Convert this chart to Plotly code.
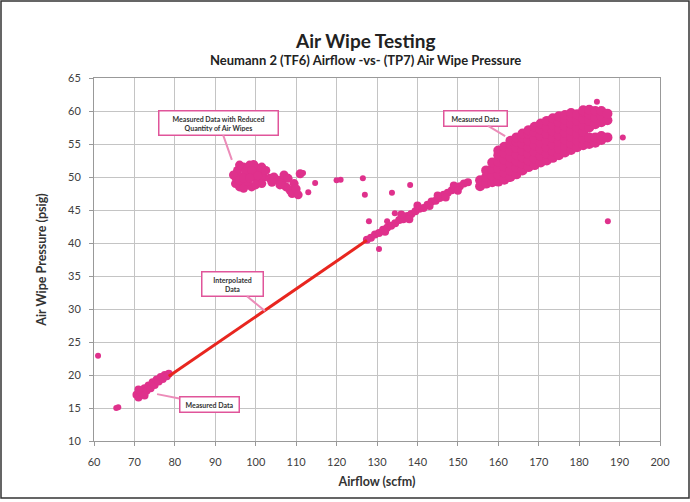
import plotly.graph_objects as go

# ---------------- data ----------------
reduced_x = [95, 95, 95.5, 96, 96.5, 97, 97.5, 98, 98.5, 99, 99.5, 100, 100.5, 101, 101.5, 102, 96, 94.5, 97, 99.5, 102.5, 98, 100,
             96, 97.5, 99, 100.5, 101.5, 97, 98.5, 100,
             103.5, 104.5, 105.5, 106.5, 107, 107.5, 108, 108.5, 109, 109.5, 110, 110.5, 111, 106, 104]
reduced_y = [49, 50, 51, 48.5, 50, 51.5, 49, 50.5, 51.8, 48.5, 50, 51.5, 49.3, 50.8, 51.5, 50, 51.8, 50.3, 48.3, 51.9, 51, 49.3, 50.3,
             49.5, 50.8, 51, 50.2, 49, 49.8, 49.8, 48.8,
             49.8, 50, 49.5, 49.2, 50.3, 48.5, 49.8, 48, 47.5, 49, 48.2, 47.3, 50.5, 48.8, 49.2]

scatter_x = [114.7, 113, 111.7, 120, 121, 126.5, 127, 133.7, 138.2, 128, 132.5, 134.4, 130.5,
             61, 65.5, 66, 184.4, 190.8, 187.1]
scatter_y = [49.1, 47.7, 50.6, 49.5, 49.6, 49.8, 47.3, 47.6, 48.8, 43.3, 43.3, 44.5, 39.1,
             22.9, 15, 15.1, 61.4, 56, 43.3]

band_x = [127.5, 128.5, 129.5, 130.5, 131.5, 132.5, 133.5, 134.5, 135.5, 136.5, 137.5, 138.5, 139.5,
          140.5, 141.5, 142.5, 143.5, 144.5, 145.5, 146.5, 147.5, 148.5, 149.5, 150.5, 151.5, 152.5,
          136, 138, 143, 145, 147, 149, 150, 132, 140]
band_y = [40.5, 40.8, 41.3, 41.5, 42, 42.3, 42.6, 43, 43.5, 43.6, 44.1, 44.4, 44.8,
          45.2, 45.3, 45.8, 46.3, 46.4, 46.8, 47.3, 47.6, 48, 48.2, 48.6, 49, 49.2,
          44.3, 43.6, 45.6, 47.2, 46.9, 48.7, 47.9, 41.7, 45.7]

upper_cols = {
    155.5: [48.6, 49.5],
    157.0: [49, 50, 51],
    158.5: [49.2, 50.2, 51.2, 52.2],
    160.0: [49.3, 50.3, 51.3, 52.3, 53.3, 54],
    161.5: [49.6, 50.6, 51.6, 52.6, 53.6, 54.6],
    163.0: [50, 51, 52, 53, 54, 55, 55.5],
    164.5: [50.4, 51.4, 52.4, 53.4, 54.4, 55.4, 56],
    166.0: [51, 52, 53, 54, 55, 56, 56.6],
    167.5: [51.5, 52.5, 53.5, 54.5, 55.5, 56.5, 57.1],
    169.0: [51.8, 52.8, 53.8, 54.8, 55.8, 56.8, 57.6],
    170.5: [52.2, 53.2, 54.2, 55.2, 56.2, 57.2, 58.1],
    172.0: [52.5, 53.5, 54.5, 55.5, 56.5, 57.5, 58.5],
    173.5: [52.9, 53.9, 54.9, 55.9, 56.9, 57.9, 58.9],
    175.0: [53.3, 54.3, 55.3, 56.3, 57.3, 58.3, 59.2],
    176.5: [53.7, 54.7, 55.7, 56.7, 57.7, 58.7, 59.4],
    178.0: [54.1, 55.1, 56.1, 57.1, 58.1, 59.1, 59.7],
    179.5: [54.5, 55.5, 56.5, 57.5, 58.5, 59.5],
    181.0: [54.8, 55.8, 56.8, 57.8, 58.8, 59.8, 60.1],
    182.5: [55, 56, 57.5, 58.5, 59.5, 60.2],
    184.0: [55.2, 56, 58, 59, 60],
    185.5: [55.6, 56.2, 58.3, 59.3, 60],
    187.0: [56, 58.6, 59.6],
}
upper_x = [x for x, ys in upper_cols.items() for _ in ys]
upper_y = [y for ys in upper_cols.values() for y in ys]

lower_x = [70.5, 71, 71.5, 72, 72.5, 73, 73.5, 74, 74.5, 75, 75.5, 76, 76.5, 77, 77.5, 78, 78.5, 71, 72.5]
lower_y = [17, 16.6, 17.5, 17.2, 18, 17.6, 18.4, 18, 18.9, 18.5, 19.3, 19, 19.7, 19.4, 20, 19.8, 20.2, 17.8, 16.9]

interp_x = [78.5, 127.5]
interp_y = [19.8, 40.4]

x_ticks = list(range(60, 201, 10))
y_ticks = list(range(10, 66, 5))

# ---------------- figure ----------------
PINK = "#df318c"
fig = go.Figure()
for xs, ys, sz in [(reduced_x, reduced_y, 9), (band_x, band_y, 8), (upper_x, upper_y, 10),
                   (lower_x, lower_y, 8), (scatter_x, scatter_y, 6)]:
    fig.add_trace(go.Scatter(x=xs, y=ys, mode="markers",
                             marker=dict(color=PINK, size=sz, line=dict(width=0)),
                             showlegend=False, hoverinfo="x+y"))
fig.add_trace(go.Scatter(x=interp_x, y=interp_y, mode="lines",
                         line=dict(color="#e8261f", width=3), showlegend=False))

FONT = "Lato, 'Open Sans', sans-serif"
callouts = [
    (94.1, 52.6, -13, -37, "Measured Data with Reduced<br>Quantity of Air Wipes", 112),
    (161.7, 56.2, -30, -18, "Measured Data", 56),
    (102.3, 29.7, -33, -27, "Interpolated<br>Data", 54),
    (75.6, 17.1, 52, 10, "Measured Data", 52),
]
for x, y, ax, ay, txt, w in callouts:
    fig.add_annotation(x=x, y=y, ax=ax, ay=ay, text="<b>" + txt + "</b>", showarrow=True,
                       arrowhead=0, arrowwidth=2, arrowcolor="#ec8cb9",
                       bordercolor="#e0559a", borderwidth=1.5, borderpad=3, bgcolor="white",
                       width=w, font=dict(size=7, color="#333333", family=FONT))

fig.add_annotation(xref="paper", yref="paper", x=(365 - 94) / 566, y=(441 - 40) / 363,
                   xanchor="center", yanchor="middle",
                   text="<b>Air Wipe Testing</b>", showarrow=False,
                   font=dict(size=19, color="#222222", family=FONT))
fig.add_annotation(xref="paper", yref="paper", x=(365 - 94) / 566, y=(441 - 60) / 363,
                   xanchor="center", yanchor="middle",
                   text="<b>Neumann 2 (TF6) Airflow -vs- (TP7) Air Wipe Pressure</b>", showarrow=False,
                   font=dict(size=13, color="#222222", family=FONT))

# outer frame
fig.add_shape(type="rect", xref="paper", yref="paper",
              x0=(1 - 94) / 566, x1=(689 - 94) / 566, y0=(441 - 498) / 363, y1=(441 - 1) / 363,
              line=dict(color="#333333", width=1.5), fillcolor="rgba(0,0,0,0)", layer="below")

fig.update_layout(
    width=690, height=502,
    margin=dict(l=94, r=30, t=78, b=61),
    paper_bgcolor="white", plot_bgcolor="white",
    font=dict(family=FONT, color="#404040"),
    xaxis=dict(range=[60, 200], tickvals=x_ticks, ticks="outside", ticklen=4, tickcolor="#999999",
               ticklabelstandoff=7,
               showgrid=True, gridcolor="#c4c4c4", gridwidth=1, zeroline=False,
               showline=True, linecolor="#999999", mirror=True,
               tickfont=dict(size=11, color="#404040"),
               title=dict(text="<b>Airflow (scfm)</b>", font=dict(size=12.5, color="#333333"), standoff=10)),
    yaxis=dict(range=[10, 65], tickvals=y_ticks, ticks="outside", ticklen=4, tickcolor="#999999",
               ticklabelstandoff=6,
               showgrid=True, gridcolor="#c4c4c4",
               gridwidth=1, zeroline=False, showline=True, linecolor="#999999", mirror=True,
               tickfont=dict(size=11, color="#404040"),
               title=dict(text="<b>Air Wipe Pressure (psig)</b>", font=dict(size=12.5, color="#333333"), standoff=18)),
)

fig.write_html("out.html", config={"displayModeBar": False},
               post_script="document.body.style.margin='0';document.body.style.overflow='hidden';")
